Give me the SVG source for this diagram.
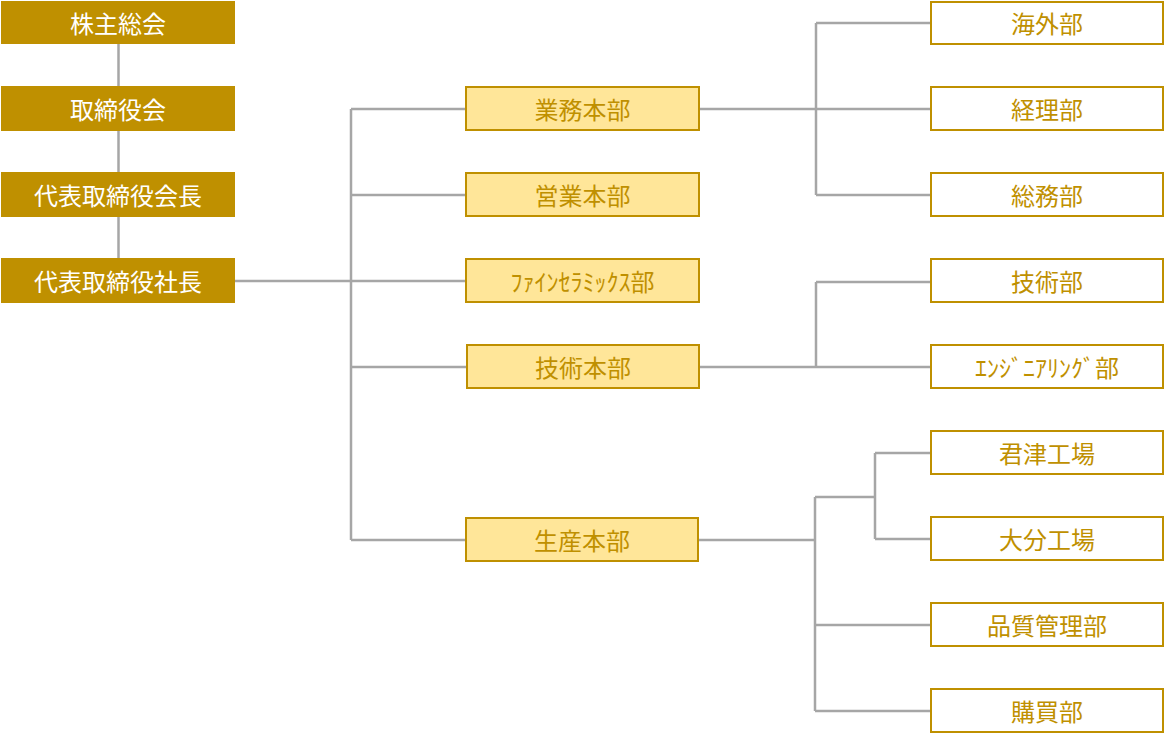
<svg xmlns="http://www.w3.org/2000/svg" width="1164" height="734" viewBox="0 0 1164 734">
<style>
.top rect{fill:#BF9000;}
.top text{fill:#FFFFFF;}
.mid rect{fill:#FFE699;stroke:#BF9000;stroke-width:2;}
.sub rect{fill:#FFFFFF;stroke:#BF9000;stroke-width:2;}
.mid text,.sub text{fill:#BF9000;}
text{font-family:"Noto Sans CJK JP","Noto Sans CJK SC",sans-serif;font-size:24px;text-anchor:middle;dominant-baseline:central;}
#connectors path{fill:none;stroke:#A6A6A6;stroke-width:2.5;}
</style>
<rect width="1164" height="734" fill="#FFFFFF"/>
<g id="connectors">
<path d="M118.5 44V86M118.5 131V172M118.5 217V258"/>
<path d="M235 281H466M351 109V540M351 109H466M351 195H466M351 367H467M351 540H465"/>
<path d="M699 109H931M816 23V195M816 23H931M816 195H931"/>
<path d="M699 367H931M816 282V367M816 282H931"/>
<path d="M698 540H815M815 497V711M815 497H875M875 453V539M875 453H931M875 539H931M815 625H931M815 711H931"/>
</g>
<g id="n-shareholders" class="top"><rect x="1" y="1" width="234" height="43"/><text x="118" y="22">株主総会</text></g>
<g id="n-board" class="top"><rect x="1" y="86" width="234" height="45"/><text x="118" y="108">取締役会</text></g>
<g id="n-chairman" class="top"><rect x="1" y="172" width="234" height="45"/><text x="118" y="194">代表取締役会長</text></g>
<g id="n-president" class="top"><rect x="1" y="258" width="234" height="45"/><text x="118" y="280">代表取締役社長</text></g>
<g id="n-gyomu" class="mid"><rect x="466" y="87" width="233" height="43"/><text x="582.5" y="108">業務本部</text></g>
<g id="n-eigyo" class="mid"><rect x="466" y="173" width="233" height="43"/><text x="582.5" y="194">営業本部</text></g>
<g id="n-fine" class="mid"><rect x="466" y="259" width="233" height="43"/><text x="582.5" y="280">ﾌｧｲﾝｾﾗﾐｯｸｽ部</text></g>
<g id="n-gijutsu" class="mid"><rect x="467" y="345" width="232" height="43"/><text x="583" y="366">技術本部</text></g>
<g id="n-seisan" class="mid"><rect x="466" y="518" width="232" height="43"/><text x="582" y="539">生産本部</text></g>
<g id="n-kaigai" class="sub"><rect x="931" y="2" width="232" height="42"/><text x="1047" y="22.5">海外部</text></g>
<g id="n-keiri" class="sub"><rect x="931" y="87" width="232" height="43"/><text x="1047" y="108">経理部</text></g>
<g id="n-somu" class="sub"><rect x="931" y="173" width="232" height="43"/><text x="1047" y="194">総務部</text></g>
<g id="n-gijutsubu" class="sub"><rect x="931" y="259" width="232" height="43"/><text x="1047" y="280">技術部</text></g>
<g id="n-engineering" class="sub"><rect x="931" y="345" width="232" height="43"/><text x="1047" y="366">ｴﾝｼﾞﾆｱﾘﾝｸﾞ部</text></g>
<g id="n-kimitsu" class="sub"><rect x="931" y="431" width="232" height="43"/><text x="1047" y="452">君津工場</text></g>
<g id="n-oita" class="sub"><rect x="931" y="517" width="232" height="43"/><text x="1047" y="538">大分工場</text></g>
<g id="n-quality" class="sub"><rect x="931" y="603" width="232" height="43"/><text x="1047" y="624">品質管理部</text></g>
<g id="n-purchase" class="sub"><rect x="931" y="689" width="232" height="43"/><text x="1047" y="710">購買部</text></g>
</svg>
